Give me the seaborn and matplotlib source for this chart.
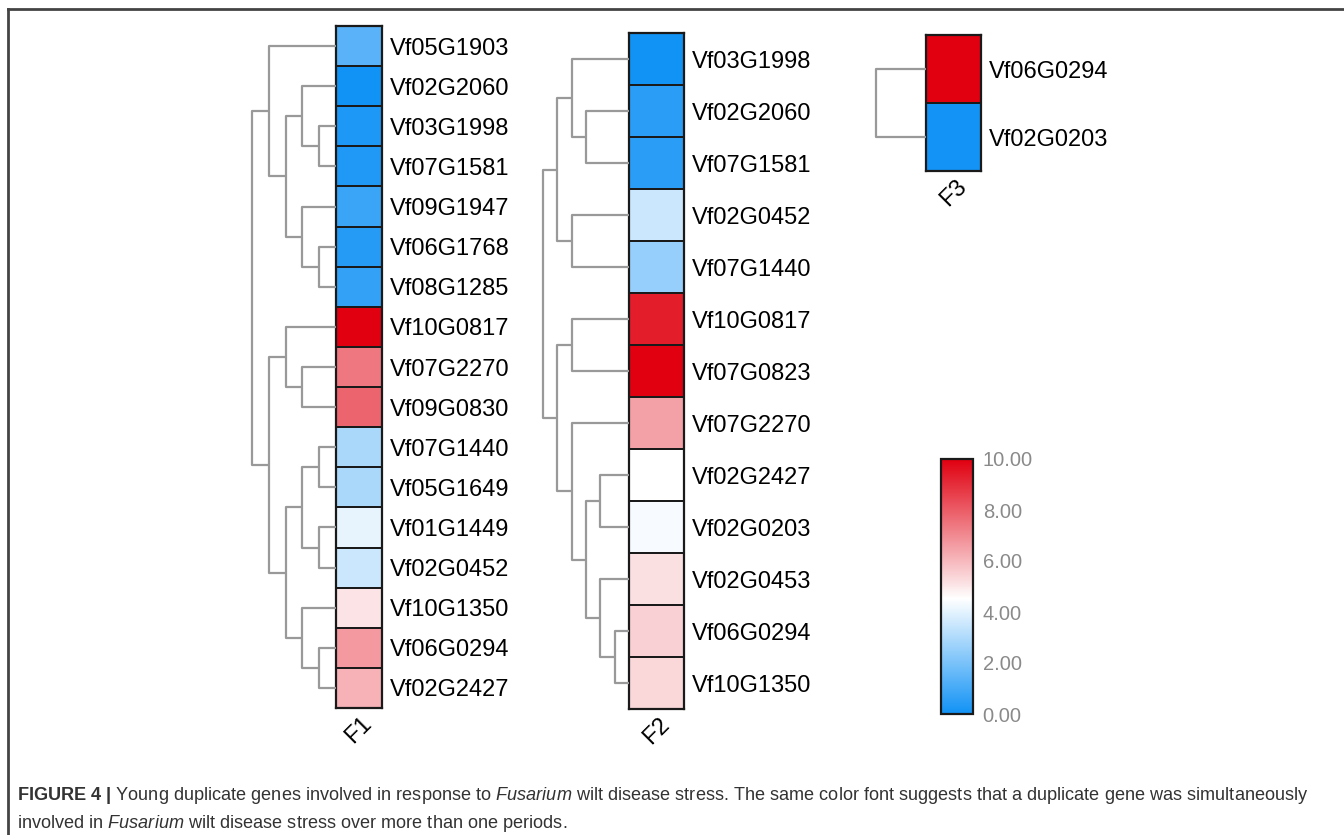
import matplotlib
matplotlib.use("Agg")
import matplotlib.pyplot as plt
import seaborn as sns
import numpy as np
import pandas as pd
from matplotlib.colors import LinearSegmentedColormap
from matplotlib.lines import Line2D

W, H = 1344, 835

# ---- data ----
f1_genes = ["Vf05G1903", "Vf02G2060", "Vf03G1998", "Vf07G1581", "Vf09G1947",
            "Vf06G1768", "Vf08G1285", "Vf10G0817", "Vf07G2270", "Vf09G0830",
            "Vf07G1440", "Vf05G1649", "Vf01G1449", "Vf02G0452", "Vf10G1350",
            "Vf06G0294", "Vf02G2427"]
f1_values = [1.4, 0.0, 0.25, 0.3, 0.8, 0.4, 0.65, 10.0, 7.4, 7.85,
             2.9, 2.9, 4.05, 3.5, 5.1, 6.7, 6.15]

f2_genes = ["Vf03G1998", "Vf02G2060", "Vf07G1581", "Vf02G0452", "Vf07G1440",
            "Vf10G0817", "Vf07G0823", "Vf07G2270", "Vf02G2427", "Vf02G0203",
            "Vf02G0453", "Vf06G0294", "Vf10G1350"]
f2_values = [0.0, 0.47, 0.47, 3.5, 2.5, 9.35, 10.0, 6.55, 4.5, 4.35,
             5.17, 5.5, 5.36]

f3_genes = ["Vf06G0294", "Vf02G0203"]
f3_values = [10.0, 0.05]

# merges like a linkage matrix: (left id, right id, level); leaves are 0..n-1
f1_tree = [(2, 3, 1), (1, 17, 2), (5, 6, 1), (4, 19, 2), (18, 20, 3), (0, 21, 4),
           (8, 9, 2), (7, 23, 3), (10, 11, 1), (12, 13, 1), (25, 26, 2),
           (15, 16, 1), (14, 28, 2), (27, 29, 3), (24, 30, 4), (22, 31, 5)]
f2_tree = [(1, 2, 3), (0, 13, 4), (3, 4, 4), (14, 15, 5), (5, 6, 4), (8, 9, 2),
           (11, 12, 1), (10, 19, 2), (18, 20, 3), (7, 21, 4), (17, 22, 5), (16, 23, 6)]
f3_tree = [(0, 1, 1)]

cbar_ticks = [0, 2, 4, 6, 8, 10]

cmap = LinearSegmentedColormap.from_list(
    "bwr_fig", [(0.0, "#1192f5"), (0.45, "#ffffff"), (1.0, "#e00010")])

fig = plt.figure(figsize=(W / 100, H / 100), dpi=100)
plt.rcParams["font.family"] = ["Liberation Sans", "DejaVu Sans"]


def px_axes(x0, y0, x1, y1):
    return fig.add_axes([x0 / W, 1 - y1 / H, (x1 - x0) / W, (y1 - y0) / H])


def draw_dendro(ax, tree, n, top_level):
    pos = {i: i + 0.5 for i in range(n)}
    lev = {i: 0 for i in range(n)}
    for k, (a, b, h) in enumerate(tree):
        ya, yb = pos[a], pos[b]
        ax.plot([lev[a], h, h, lev[b]], [ya, ya, yb, yb], color="#999999",
                lw=1.6, clip_on=False, solid_capstyle="butt")
        pos[n + k] = (ya + yb) / 2
        lev[n + k] = h
    ax.set_ylim(n, 0)
    ax.set_xlim(top_level, 0)
    ax.axis("off")


def draw_block(genes, values, name, tree, levels, box, dendro_x, cbar_ax=None):
    x0, y0, x1, y1 = box
    ax = px_axes(x0, y0, x1, y1)
    df = pd.DataFrame({name: values}, index=genes)
    kws = dict(cmap=cmap, vmin=0, vmax=10, linewidths=1.3, linecolor="#1a1a1a",
               xticklabels=True, yticklabels=True, ax=ax)
    if cbar_ax is None:
        sns.heatmap(df, cbar=False, **kws)
    else:
        sns.heatmap(df, cbar=True, cbar_ax=cbar_ax,
                    cbar_kws={"ticks": cbar_ticks, "format": "%.2f"}, **kws)
    ax.yaxis.tick_right()
    ax.tick_params(axis="y", length=0, pad=6, labelsize=17, labelrotation=0)
    ax.tick_params(axis="x", length=0, pad=3, labelsize=17)
    plt.setp(ax.get_xticklabels(), rotation=45, ha="center", va="top")
    ax.set_xlabel("")
    ax.set_ylabel("")
    for s in ax.spines.values():
        s.set_visible(True)
        s.set_linewidth(1.6)
        s.set_color("#1a1a1a")
    dax = px_axes(dendro_x, y0, x0, y1)
    draw_dendro(dax, tree, len(genes), levels)
    return ax


draw_block(f1_genes, f1_values, "F1", f1_tree, 5, (336, 26, 382, 708), 252)
draw_block(f2_genes, f2_values, "F2", f2_tree, 6, (629, 33, 684, 709), 543)
cax = px_axes(941, 459, 973, 714)
ax3 = draw_block(f3_genes, f3_values, "F3", f3_tree, 1, (926, 35, 981, 171), 876,
                 cbar_ax=cax)
cb = ax3.collections[0].colorbar
cb.outline.set_linewidth(1.6)
cb.outline.set_edgecolor("#1a1a1a")
cax.tick_params(length=0, labelsize=14.5, labelcolor="#8a8a8a", pad=7)

# frame around the figure panel
fig.add_artist(Line2D([8 / W, 1], [1 - 9 / H, 1 - 9 / H], color="#444444", lw=2))
fig.add_artist(Line2D([8 / W, 8 / W], [1 - 9 / H, 0], color="#444444", lw=2))

# caption
plt.rcParams["mathtext.fontset"] = "custom"
plt.rcParams["mathtext.rm"] = "Liberation Sans"
plt.rcParams["mathtext.it"] = "Liberation Sans:italic"
plt.rcParams["mathtext.bf"] = "Liberation Sans:bold"
line1 = (r"$\mathbf{FIGURE\ 4\ |}$ Young duplicate genes involved in response to "
         r"$\mathit{Fusarium}$ wilt disease stress. The same color font suggests "
         r"that a duplicate gene was simultaneously")
line2 = r"involved in $\mathit{Fusarium}$ wilt disease stress over more than one periods."
t1 = fig.text(17 / W, 1 - 800 / H, line1, fontsize=12, color="#333333",
              ha="left", va="baseline")
r = fig.canvas.get_renderer()
fs = 12 * (1291 / t1.get_window_extent(r).width)
t1.set_fontsize(fs)
fig.text(17 / W, 1 - 828 / H, line2, fontsize=fs, color="#333333",
         ha="left", va="baseline")

fig.savefig("out.png", dpi=100)
